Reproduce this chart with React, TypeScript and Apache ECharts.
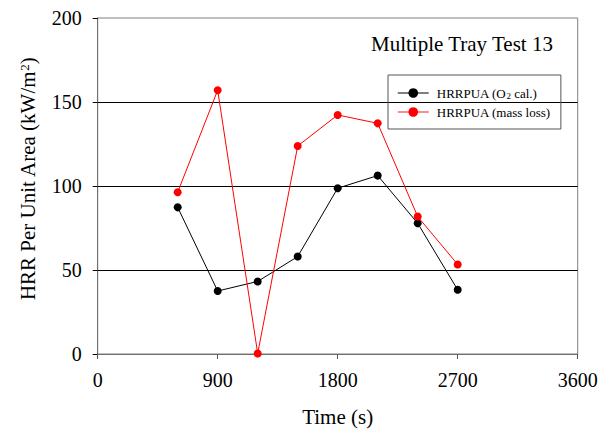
import React, { useEffect, useRef } from "react";
import * as echarts from "echarts";

const times = [600, 900, 1200, 1500, 1800, 2100, 2400, 2700];
const hrrO2 = [87.3, 37.5, 43.2, 58, 98.7, 106.2, 77.8, 38.2];
const hrrMass = [96.3, 157, 0.3, 123.8, 142.3, 137.3, 81.8, 53.3];
const xTicks = [0, 900, 1800, 2700, 3600];
const yTicks = [0, 50, 100, 150, 200];
const seriesNames = ["HRRPUA (O2 cal.)", "HRRPUA (mass loss)"];

const FONT = '"Liberation Serif", "Times New Roman", serif';

export default function App() {
  const ref = useRef<HTMLDivElement>(null);
  useEffect(() => {
    if (!ref.current) return;
    const chart = echarts.init(ref.current, undefined, { renderer: "svg" });
    const toPairs = (ys: number[]) => times.map((t, i) => [t, ys[i]]);
    chart.setOption({
      animation: false,
      backgroundColor: "#fff",
      title: {
        text: "Multiple Tray Test 13",
        left: 371,
        top: 33,
        padding: 0,
        textStyle: { fontFamily: FONT, fontSize: 21, fontWeight: "normal", color: "#000" },
      },
      legend: {
        orient: "vertical",
        left: 388,
        top: 75,
        padding: [11, 10, 10, 9],
        itemWidth: 31,
        itemHeight: 12,
        itemGap: 5,
        borderColor: "#555",
        borderWidth: 1,
        data: [
          { name: seriesNames[0], itemStyle: { color: "#000" }, lineStyle: { color: "#555", width: 1.5 } },
          { name: seriesNames[1], itemStyle: { color: "#ff0000" }, lineStyle: { color: "#ff6666", width: 1.5 } },
        ],
        formatter: (name: string) =>
          name === seriesNames[0] ? "HRRPUA (O{sub|2} cal.)" : "HRRPUA (mass loss)",
        textStyle: {
          fontFamily: FONT,
          fontSize: 13,
          lineHeight: 14,
          color: "#000",
          padding: [0, 0, 0, 3],
          rich: {
            sub: { fontFamily: FONT, fontSize: 9, verticalAlign: "bottom", padding: [6, 0, 0, 0] },
          },
        },
      },
      grid: {
        left: 97.7,
        right: 34.3,
        top: 18,
        bottom: 81,
        show: true,
        borderColor: "#808080",
        borderWidth: 1,
      },
      xAxis: {
        type: "value",
        min: xTicks[0],
        max: xTicks[xTicks.length - 1],
        interval: 900,
        name: "Time (s)",
        nameLocation: "middle",
        nameGap: 52,
        nameTextStyle: { fontFamily: FONT, fontSize: 21, color: "#000" },
        axisLine: { show: true, lineStyle: { color: "#707070", width: 1 } },
        axisTick: { show: true, inside: false, length: 5, lineStyle: { color: "#555" } },
        axisLabel: {
          fontFamily: FONT,
          fontSize: 20,
          color: "#000",
          margin: 16,
          formatter: (v: number) => String(v),
        },
        splitLine: { show: false },
      },
      yAxis: {
        type: "value",
        min: yTicks[0],
        max: yTicks[yTicks.length - 1],
        interval: 50,
        name: "HRR Per Unit Area (kW/m{sup|2})",
        nameLocation: "middle",
        nameRotate: 90,
        nameGap: 59,
        nameTextStyle: {
          fontFamily: FONT,
          fontSize: 21,
          color: "#000",
          padding: [0, 0, 0, 14],
          rich: {
            sup: { fontFamily: FONT, fontSize: 13, verticalAlign: "top", padding: [0, 0, 8, 0] },
          },
        },
        axisLine: { show: true, lineStyle: { color: "#707070", width: 1 } },
        axisTick: { show: true, inside: false, length: 5, lineStyle: { color: "#000" } },
        axisLabel: {
          fontFamily: FONT,
          fontSize: 20,
          color: "#000",
          margin: 16,
          formatter: (v: number) => String(v),
        },
        splitLine: { show: true, showMinLine: false, showMaxLine: false, lineStyle: { color: "#000", width: 1 } },
      },
      series: [
        {
          name: seriesNames[0],
          type: "line",
          data: toPairs(hrrO2),
          symbol: "circle",
          symbolSize: 8,
          itemStyle: { color: "#000" },
          lineStyle: { color: "#000", width: 1 },
          z: 3,
        },
        {
          name: seriesNames[1],
          type: "line",
          data: toPairs(hrrMass),
          symbol: "circle",
          symbolSize: 8,
          itemStyle: { color: "#ff0000" },
          lineStyle: { color: "#ff0000", width: 1 },
          z: 4,
        },
      ],
    });
    return () => chart.dispose();
  }, []);
  return <div ref={ref} style={{ width: 612, height: 435, position: "absolute", left: 0, top: 0 }} />;
}
